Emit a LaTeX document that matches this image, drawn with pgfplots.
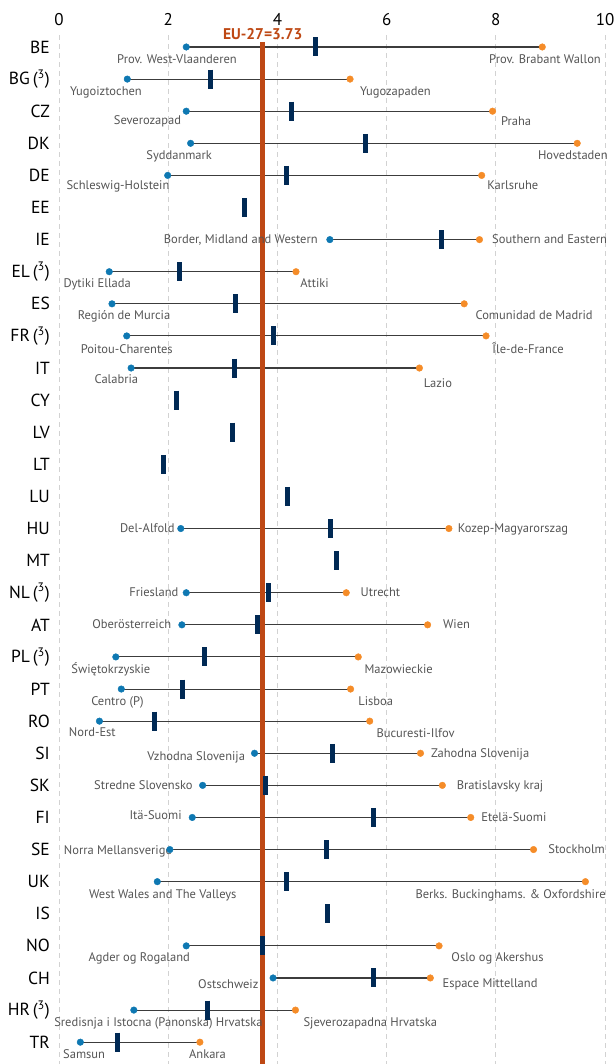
\documentclass[border=0pt]{standalone}
\usepackage{fontspec}
\setmainfont{PT Sans}
\usepackage{pgfplots}
\usepackage{pgfplotstable}
\pgfplotsset{compat=1.18}
\definecolor{minblue}{RGB}{14,120,178}
\definecolor{maxorange}{RGB}{245,140,40}
\definecolor{navy}{RGB}{0,41,84}
\definecolor{eured}{RGB}{190,72,20}
\definecolor{linegray}{RGB}{60,60,60}
\definecolor{labgray}{RGB}{85,85,85}

% rows: 0 = BE ... 31 = TR ; lo = lowest region, hi = highest region
\pgfplotstableread{
y lo hi
0 2.33 8.85
1 1.25 5.33
2 2.33 7.94
3 2.41 9.49
4 1.99 7.74
6 4.96 7.70
7 0.92 4.34
8 0.97 7.42
9 1.24 7.82
10 1.32 6.60
15 2.23 7.14
17 2.33 5.26
18 2.25 6.75
19 1.04 5.48
20 1.14 5.34
21 0.74 5.69
22 3.58 6.62
23 2.63 7.02
24 2.44 7.54
25 2.03 8.69
26 1.80 9.64
28 2.33 6.96
29 3.92 6.80
30 1.37 4.33
31 0.39 2.58
}\ranges

\pgfplotstableread{
y nat
0 4.69
1 2.77
2 4.26
3 5.62
4 4.17
5 3.40
6 7.00
7 2.20
8 3.24
9 3.93
10 3.22
11 2.16
12 3.17
13 1.92
14 4.19
15 4.98
16 5.09
17 3.83
18 3.64
19 2.67
20 2.27
21 1.75
22 5.01
23 3.79
24 5.75
25 4.89
26 4.17
27 4.91
28 3.73
29 5.75
30 2.71
31 1.07
}\natl

\tikzset{
  rl/.style={font=\fontsize{12.5}{13}\selectfont, text=labgray, inner sep=0pt},
  bl/.style={rl, anchor=base},
  le/.style={rl, anchor=base east},
  ri/.style={rl, anchor=base west},
}

\begin{document}
\begin{tikzpicture}
\begin{axis}[
  scale only axis,
  width=546pt, height=1028.8pt,
  xmin=0, xmax=10,
  ymin=-0.37, ymax=31.68,
  y dir=reverse,
  clip=false,
  axis line style={draw=none},
  major tick length=0pt,
  xtick={0,2,...,10},
  xticklabel pos=upper,
  xticklabel style={font=\fontsize{17}{17}\selectfont, inner sep=0pt, anchor=south, yshift=9pt},
  /pgf/number format/assume math mode=true,
  ytick={0,...,31},
  yticklabels={BE, BG\,(\textsuperscript{3}), CZ, DK, DE, EE, IE, EL\,(\textsuperscript{3}), ES, FR\,(\textsuperscript{3}), IT, CY, LV, LT, LU, HU, MT, NL\,(\textsuperscript{3}), AT, PL\,(\textsuperscript{3}), PT, RO, SI, SK, FI, SE, UK, IS, NO, CH, HR\,(\textsuperscript{3}), TR},
  yticklabel style={font=\fontsize{17.5}{17.5}\selectfont, inner sep=0pt, anchor=east, xshift=-9pt},
  xmajorgrids,
  grid style={dash pattern=on 5pt off 4pt, draw=gray!35, line width=1pt},
]
% range lines
\addplot[only marks, mark=none, forget plot,
  error bars/.cd, x dir=plus, x explicit, error mark=none,
  error bar style={draw=linegray, line width=1.1pt}]
  table[x=lo, y=y, x error expr=\thisrow{hi}-\thisrow{lo}] {\ranges};
% EU-27 average
\addplot[eured, line width=4.8pt, forget plot] coordinates {(3.73,-0.16) (3.73,31.68)};
\node[font=\fontsize{15.5}{16}\selectfont\bfseries, text=eured, anchor=south, inner sep=1.5pt] at (axis cs:3.73,-0.16) {EU-27=3.73};
% lowest and highest regions
\addplot[only marks, mark=*, mark size=3.3pt, color=minblue] table[x=lo, y=y] {\ranges};
\addplot[only marks, mark=*, mark size=3.3pt, color=maxorange] table[x=hi, y=y] {\ranges};
% national value
\addplot[only marks, mark=|, mark size=9.5pt, mark options={line width=5pt, draw=navy}] table[x=nat, y=y] {\natl};

% region names
\node[bl] at (axis cs:2.16,0.52) {Prov. West-Vlaanderen};
\node[bl] at (axis cs:8.90,0.52) {Prov. Brabant Wallon};
\node[bl] at (axis cs:0.86,1.5) {Yugoiztochen};
\node[bl] at (axis cs:6.16,1.5) {Yugozapaden};
\node[bl] at (axis cs:1.62,2.4) {Severozapad};
\node[bl] at (axis cs:8.37,2.45) {Praha};
\node[bl] at (axis cs:2.20,3.5) {Syddanmark};
\node[bl] at (axis cs:9.41,3.5) {Hovedstaden};
\node[bl] at (axis cs:1.08,4.45) {Schleswig-Holstein};
\node[bl] at (axis cs:8.31,4.45) {Karlsruhe};
\node[le] at (axis cs:4.74,6.12) {Border, Midland and Western};
\node[ri] at (axis cs:7.93,6.12) {Southern and Eastern};
\node[bl] at (axis cs:0.70,7.48) {Dytiki Ellada};
\node[bl] at (axis cs:4.68,7.48) {Attiki};
\node[bl] at (axis cs:1.19,8.5) {Región de Murcia};
\node[bl] at (axis cs:8.70,8.5) {Comunidad de Madrid};
\node[bl] at (axis cs:1.24,9.55) {Poitou-Charentes};
\node[bl] at (axis cs:8.59,9.55) {Île-de-France};
\node[bl] at (axis cs:1.05,10.48) {Calabria};
\node[bl] at (axis cs:6.94,10.6) {Lazio};
\node[le] at (axis cs:2.12,15.12) {Del-Alfold};
\node[ri] at (axis cs:7.30,15.12) {Kozep-Magyarorszag};
\node[le] at (axis cs:2.19,17.12) {Friesland};
\node[ri] at (axis cs:5.52,17.12) {Utrecht};
\node[le] at (axis cs:2.06,18.12) {Oberösterreich};
\node[ri] at (axis cs:7.03,18.12) {Wien};
\node[bl] at (axis cs:0.95,19.5) {Świętokrzyskie};
\node[bl] at (axis cs:6.22,19.5) {Mazowieckie};
\node[bl] at (axis cs:1.07,20.5) {Centro (P)};
\node[bl] at (axis cs:5.80,20.5) {Lisboa};
\node[bl] at (axis cs:0.61,21.48) {Nord-Est};
\node[bl] at (axis cs:6.53,21.5) {Bucuresti-Ilfov};
\node[le] at (axis cs:3.41,22.22) {Vzhodna Slovenija};
\node[ri] at (axis cs:6.81,22.14) {Zahodna Slovenija};
\node[le] at (axis cs:2.45,23.12) {Stredne Slovensko};
\node[ri] at (axis cs:7.28,23.12) {Bratislavsky kraj};
\node[le] at (axis cs:2.25,24.06) {Itä-Suomi};
\node[ri] at (axis cs:7.73,24.12) {Etelä-Suomi};
\node[le] at (axis cs:2.07,25.14) {Norra Mellansverige};
\node[ri] at (axis cs:8.96,25.12) {Stockholm};
\node[bl] at (axis cs:1.90,26.52) {West Wales and The Valleys};
\node[bl] at (axis cs:8.27,26.52) {Berks. Buckinghams. \& Oxfordshire};
\node[bl] at (axis cs:1.47,28.48) {Agder og Rogaland};
\node[bl] at (axis cs:8.03,28.48) {Oslo og Akershus};
\node[bl] at (axis cs:3.10,29.32) {Ostschweiz};
\node[ri] at (axis cs:7.02,29.3) {Espace Mittelland};
\node[bl] at (axis cs:1.82,30.5) {Sredisnja i Istocna (Panonska) Hrvatska};
\node[bl] at (axis cs:5.70,30.5) {Sjeverozapadna Hrvatska};
\node[bl] at (axis cs:0.46,31.52) {Samsun};
\node[bl] at (axis cs:2.72,31.52) {Ankara};

\coordinate (bbsw) at (axis cs:-1.081,31.68);
\coordinate (bbne) at (axis cs:10.175,-1.464);
\end{axis}
\pgfresetboundingbox
\path (bbsw) rectangle (bbne);
\end{tikzpicture}
\end{document}
